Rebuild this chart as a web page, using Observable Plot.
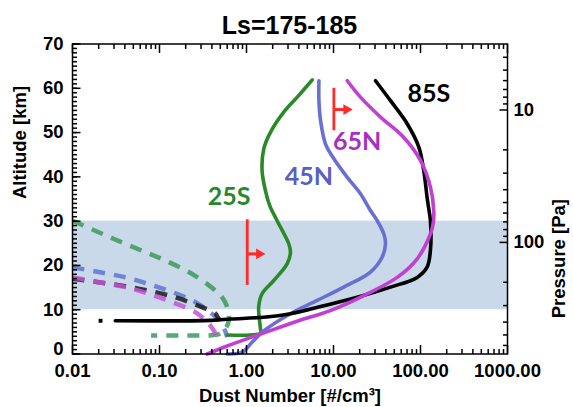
<!DOCTYPE html>
<html><head><meta charset="utf-8">
<script src="https://cdn.jsdelivr.net/npm/d3@7"></script>
<script src="https://cdn.jsdelivr.net/npm/@observablehq/plot@0.6"></script>
<style>
body{margin:0;background:#fff;}
#title{width:573px;height:34px;box-sizing:border-box;font:bold 25px "Liberation Sans",Arial,sans-serif;padding-top:15.5px;padding-left:6px;line-height:19px;text-align:center;overflow:visible;color:#000;}
#chart svg{overflow:visible;display:block;}
</style></head><body>
<div id="title">Ls=175-185</div>
<div id="chart"></div>
<script>
// ---------- data ----------
const xDomain = [0.01, 1000];
const yDomain = [0, 70];
const band = [{lo: 10, hi: 30}];

// [dust number, altitude km]
const s25Solid = [[5.7,61.9],[3.83,58.0],[2.68,54.6],[1.89,50.1],[1.58,46.3],[1.51,41.4],[1.65,36.9],[1.85,33.5],[2.25,30.1],[3.06,24.9],[3.2,23.0],[2.94,20.4],[2.06,16.6],[1.51,13.6],[1.38,10.6],[1.44,6.0],[1.45,4.7],[1.1,4.3],[0.6,4.3]];
const s25Dash = [[0.01,30.1],[0.02,27.5],[0.037,25.2],[0.069,23.0],[0.117,21.1],[0.217,18.5],[0.37,15.5],[0.525,12.8],[0.6,10.6],[0.627,7.6],[0.57,5.7],[0.5,4.6],[0.4,4.25],[0.2,4.2],[0.08,4.2]];
const s45Solid = [[6.8,61.7],[6.8,57.2],[7.1,52.7],[8.1,47.4],[10.1,44.1],[14.4,39.9],[20.4,36.2],[26.6,32.4],[31.8,30.1],[37.9,27.1],[39.6,24.9],[36.3,21.9],[26.6,18.5],[13.1,15.1],[6.5,12.1],[3.2,9.1],[1.6,5.3],[1.15,2.6],[0.89,0.4],[0.6,0]];
const s45Dash = [[0.01,19.6],[0.02,18.5],[0.041,17.3],[0.075,15.8],[0.14,14.0],[0.26,11.7],[0.4,9.1],[0.48,7.6],[0.56,5.5],[0.6,3.8]];
const s65Solid = [[14.4,61.7],[20.4,58.0],[34.7,53.5],[64.3,48.9],[100,43.7],[130,37.7],[142,32.4],[140,29.5],[130,27.1],[91.6,21.5],[54,17.3],[22.3,13.2],[9.2,9.8],[3.83,7.4],[1.5,4.6],[0.6,1.8],[0.353,0]];
const s65Dash = [[0.01,17.3],[0.02,16.2],[0.041,15.1],[0.075,13.6],[0.14,11.7],[0.26,9.4],[0.37,6.8],[0.45,4.3]];
const s85Solid = [[30.4,61.7],[45.2,57.2],[70.3,52.0],[95.7,46.7],[109,41.4],[119,35.4],[124,33],[130,30.1],[130,23.4],[119,19.6],[91.6,17.3],[45.2,15.1],[18.7,12.8],[7.7,10.9],[3.2,9.1],[1.58,8.3],[0.66,7.9],[0.4,7.6],[0.031,7.5]];
const s85Dash = [[0.01,17.0],[0.02,16.2],[0.04,15.3],[0.075,14.3],[0.152,12.8],[0.28,10.9],[0.44,9.1],[0.47,8.2],[0.5,7.6]];
const s85Dot = [[0.021,7.5]];

const markerBars = [{x: 1.02, lo: 15.5, hi: 30.3}, {x: 10.1, lo: 50.4, hi: 60.0}];
const markerArrows = [{x1: 1.02, x2: 1.40, y: 22.6}, {x1: 10.1, x2: 14.1, y: 55.2}];

const regionNames = ["25S", "45N", "65N", "85S"];
const regionLabelX = [0.63, 5.2, 18.7, 124.5];
const regionLabelY = [35.4, 39.9, 47.8, 58.7];

const xMajor = [0.01, 0.1, 1, 10, 100, 1000];
const xTickLabels = ["0.01", "0.10", "1.00", "10.00", "100.00", "1000.00"];
const xMinorMult = [2, 3, 4, 5, 6, 7, 8, 9];
const yMajor = [0, 10, 20, 30, 40, 50, 60, 70];
const yMinor = d3.range(0, 71, 1);
const pMajor = [10, 100];
const pTickLabels = ["10", "100"];
const pMinor = [4, 5, 6, 7, 8, 9, 20, 30, 40, 50, 60, 70, 80, 90, 200, 300, 400, 500, 600];
const pRef = 100, pRefAlt = 25.2, decadeKm = 29.9; // pressure axis

// ---------- layout & styles ----------
const W = 573, H = 373, mL = 72, mR = 66, mT = 9.5, mB = 53.5;
const frameW = W - mL - mR, frameH = H - mT - mB;
const col = {
  g: "#2a8a2a", gD: "#3c9a5c",
  b: "#6a70d2", bD: "#5f74d0",
  m: "#c040d4", mD: "#c452d8",
  k: "#000000", kD: "#1a1a1a",
  red: "#ff2a2a", band: "#c9d9e9"
};
const labelColors = ["#2a872a", "#5a5fc2", "#a431c0", "#000000"];

const xMinor = xMajor.slice(0, -1).flatMap(d => xMinorMult.map(m => d * m));
const pAlt = p => pRefAlt + decadeKm * Math.log10(pRef / p);
const pMajorAlt = pMajor.map(pAlt);
const pMinorAlt = pMinor.map(pAlt);

const X = d => d[0], Y = d => d[1], I = d => d;
const solid = (data, stroke) => Plot.line(data, {x: X, y: Y, stroke, strokeWidth: 3.6, curve: "catmull-rom"});
const dashed = (data, stroke) => Plot.line(data, {x: X, y: Y, stroke, strokeWidth: 4.5, strokeOpacity: 0.85, strokeDasharray: "12,9", strokeLinecap: "butt", curve: "catmull-rom"});

// inward-pointing tick segments (length L in pixels, converted to scale units)
const kmPerPx = (yDomain[1] - yDomain[0]) / frameH;
const decPerPx = Math.log10(xDomain[1] / xDomain[0]) / frameW;
const tickSegs = [];
const addX = (vals, L) => vals.forEach(v => {
  tickSegs.push({x1: v, x2: v, y1: yDomain[0], y2: yDomain[0] + L * kmPerPx});
  tickSegs.push({x1: v, x2: v, y1: yDomain[1], y2: yDomain[1] - L * kmPerPx});
});
const addYL = (vals, L) => vals.forEach(v => tickSegs.push({x1: xDomain[0], x2: xDomain[0] * 10 ** (L * decPerPx), y1: v, y2: v}));
const addYR = (vals, L) => vals.forEach(v => tickSegs.push({x1: xDomain[1], x2: xDomain[1] / 10 ** (L * decPerPx), y1: v, y2: v}));
addX(xMajor, 9); addX(xMinor, 5);
addYL(yMajor, 8); addYL(yMinor, 4.5);
addYR(pMajorAlt, 8); addYR(pMinorAlt, 4.5);

const labels = regionNames.map((t, i) => ({t, x: regionLabelX[i], y: regionLabelY[i], i}));

const chart = Plot.plot({
  width: W, height: H,
  marginLeft: mL, marginRight: mR, marginTop: mT, marginBottom: mB,
  style: {fontFamily: "'Liberation Sans', Arial, sans-serif", fontSize: "18.5px", fontWeight: "bold", background: "transparent", overflow: "visible"},
  x: {type: "log", domain: xDomain},
  y: {domain: yDomain},
  marks: [
    Plot.rect(band, {x1: () => xDomain[0], x2: () => xDomain[1], y1: "lo", y2: "hi", fill: col.band}),
    dashed(s25Dash, col.gD),
    dashed(s45Dash, col.bD),
    dashed(s85Dash, col.kD),
    dashed(s65Dash, col.mD),
    Plot.dot(s85Dot, {x: X, y: Y, symbol: "square", r: 2.2, fill: col.k}),
    solid(s25Solid, col.g),
    solid(s45Solid, col.b),
    solid(s85Solid, col.k),
    solid(s65Solid, col.m),
    Plot.ruleX(markerBars, {x: "x", y1: "lo", y2: "hi", stroke: col.red, strokeWidth: 2.8}),
    Plot.ruleY(markerArrows, {x1: "x1", x2: "x2", y: "y", stroke: col.red, strokeWidth: 3}),
    Plot.dot(markerArrows, {x: "x2", y: "y", symbol: "triangle", r: 4, fill: col.red, rotate: 90}),
    Plot.text(labels, {x: "x", y: "y", text: "t", fill: d => labelColors[d.i], fontFamily: "Lato, 'Open Sans', sans-serif", fontSize: 25, fontWeight: 700}),
    // tick labels
    Plot.axisX(xMajor, {anchor: "bottom", tickSize: 0, tickPadding: 9.5, tickFormat: d => xTickLabels[xMajor.indexOf(d)], label: null}),
    Plot.axisY(yMajor.slice(1), {anchor: "left", tickSize: 0, tickPadding: 9, label: null}),
    Plot.axisY(yMajor.slice(0, 1), {anchor: "left", tickSize: 0, tickPadding: 9, dy: -5, label: null}),
    Plot.axisY(pMajorAlt, {anchor: "right", tickSize: 0, tickPadding: 6, tickFormat: d => pTickLabels[pMajorAlt.indexOf(d)], label: null}),
    // axis titles
    Plot.text(["Dust Number [#/cm³]"], {text: I, frameAnchor: "bottom", dy: 42.5, lineAnchor: "middle", fontSize: 18.5}),
    Plot.text(["Altitude [km]"], {text: I, frameAnchor: "left", dx: -52, rotate: -90, lineAnchor: "middle", fontSize: 18.5}),
    Plot.text(["Pressure [Pa]"], {text: I, frameAnchor: "right", dx: 52, rotate: -90, lineAnchor: "middle", fontSize: 18.5}),
    Plot.frame({stroke: "#000", strokeWidth: 1.5}),
    // inward ticks, drawn last
    Plot.link(tickSegs, {x1: "x1", x2: "x2", y1: "y1", y2: "y2", stroke: "#000", strokeWidth: 1.5, strokeLinecap: "butt"})
  ]
});
document.getElementById("chart").appendChild(chart);
</script>
</body></html>
